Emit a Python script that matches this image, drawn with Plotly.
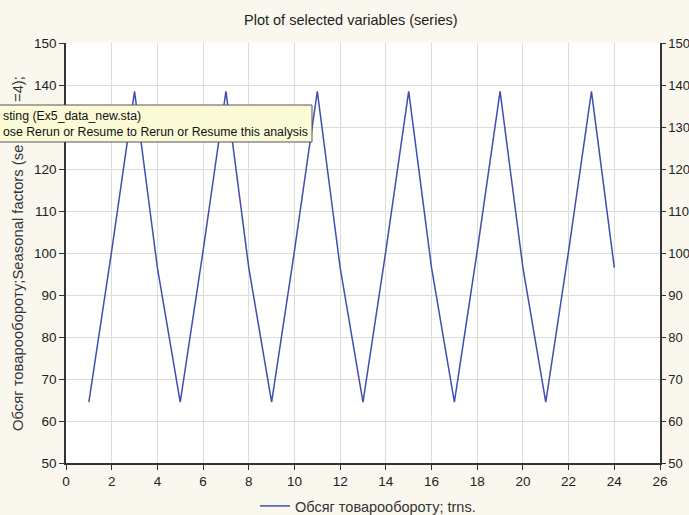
import plotly.graph_objects as go

# Data
t = list(range(1, 25))
values = [64.5, 100.5, 138.5, 96.5, 64.5, 100.5, 138.5, 96.5,
          64.5, 100.5, 138.5, 96.5, 64.5, 100.5, 138.5, 96.5,
          64.5, 100.5, 138.5, 96.5, 64.5, 100.5, 138.5, 96.5]
series_name = "Обсяг товарообороту; trns."
title_text = "Plot of selected variables (series)"
y_title_lower = "Обсяг товарообороту;Seasonal factors (se"
y_title_upper = "=4);"
x_ticks = list(range(0, 27, 2))
y_ticks = list(range(50, 151, 10))
# left tick labels: the 130 label is hidden behind the tooltip box in the original
y_ticktext_left = ["" if v == 130 else str(v) for v in y_ticks]
y_ticktext_right = [str(v) for v in y_ticks]

FONT = "Liberation Sans, Arial, sans-serif"
LINE_COLOR = "#3f4fae"
L, R, T, B = 66, 29, 43, 52
W, H = 689, 515
PW, PH = W - L - R, H - T - B


def px_x(p):
    return (p - L) / PW


def px_y(p):
    return (H - B - p) / PH


fig = go.Figure()
fig.add_trace(go.Scatter(x=t, y=values, mode="lines", name=series_name,
                         line=dict(color=LINE_COLOR, width=1.5)))
fig.add_trace(go.Scatter(x=t, y=values, mode="lines", yaxis="y2",
                         line=dict(color="rgba(0,0,0,0)", width=0),
                         showlegend=False, hoverinfo="skip"))

axis_common = dict(
    showgrid=True, gridcolor="#dcdcdc", gridwidth=1,
    showline=True, linecolor="#333333", linewidth=1.5,
    ticks="outside", ticklen=5, tickcolor="#333333",
    tickfont=dict(family=FONT, size=13.5, color="#222222"),
    zeroline=False, automargin=False,
)

fig.update_layout(
    width=W, height=H,
    margin=dict(l=L, r=R, t=T, b=B, autoexpand=False),
    paper_bgcolor="#faf8ee",
    plot_bgcolor="#ffffff",
    xaxis=dict(range=[0, 26], tickvals=x_ticks, **axis_common),
    yaxis=dict(range=[50, 150], tickvals=y_ticks, ticktext=y_ticktext_left, **axis_common),
    yaxis2=dict(range=[50, 150], tickvals=y_ticks, ticktext=y_ticktext_right,
                overlaying="y", side="right",
                showgrid=False, showline=True, linecolor="#333333", linewidth=1.5,
                ticks="outside", ticklen=4, tickcolor="#333333", automargin=False,
                tickfont=dict(family=FONT, size=13, color="#222222"), zeroline=False),
    legend=dict(orientation="h", x=px_x(368), xanchor="center",
                yref="container", y=1 - 506 / H, yanchor="middle",
                font=dict(family=FONT, size=14.5, color="#333333"),
                bgcolor="rgba(0,0,0,0)"),
    showlegend=True,
)

# chart title
fig.add_annotation(xref="paper", yref="paper", x=px_x(351), y=px_y(20),
                   xanchor="center", yanchor="middle", showarrow=False,
                   text=title_text, font=dict(family=FONT, size=14.5, color="#222222"))

# y-axis title (partly hidden behind the tooltip box in the original)
fig.add_annotation(xref="paper", yref="paper", x=px_x(18), y=px_y(143),
                   xanchor="center", yanchor="top", showarrow=False, textangle=-90,
                   text=y_title_lower, font=dict(family=FONT, size=14.8, color="#333333"))
fig.add_annotation(xref="paper", yref="paper", x=px_x(18), y=px_y(104),
                   xanchor="center", yanchor="bottom", showarrow=False, textangle=-90,
                   text=y_title_upper, font=dict(family=FONT, size=14.8, color="#333333"))

# tooltip box (from the original screenshot)
fig.add_shape(type="rect", xref="paper", yref="paper",
              x0=px_x(-4), x1=px_x(312), y0=px_y(142), y1=px_y(105),
              fillcolor="#fcfbd8", line=dict(color="#555555", width=1), layer="above")
fig.add_annotation(xref="paper", yref="paper", x=px_x(1), y=px_y(123.5),
                   xanchor="left", yanchor="middle", showarrow=False, align="left",
                   text="sting (Ex5_data_new.sta)<br>ose Rerun or Resume to Rerun or Resume this analysis",
                   font=dict(family=FONT, size=12.3, color="#111111"))

fig.write_html("out.html", config={"displayModeBar": False},
               post_script="document.body.style.margin='0';document.body.style.padding='0';")
